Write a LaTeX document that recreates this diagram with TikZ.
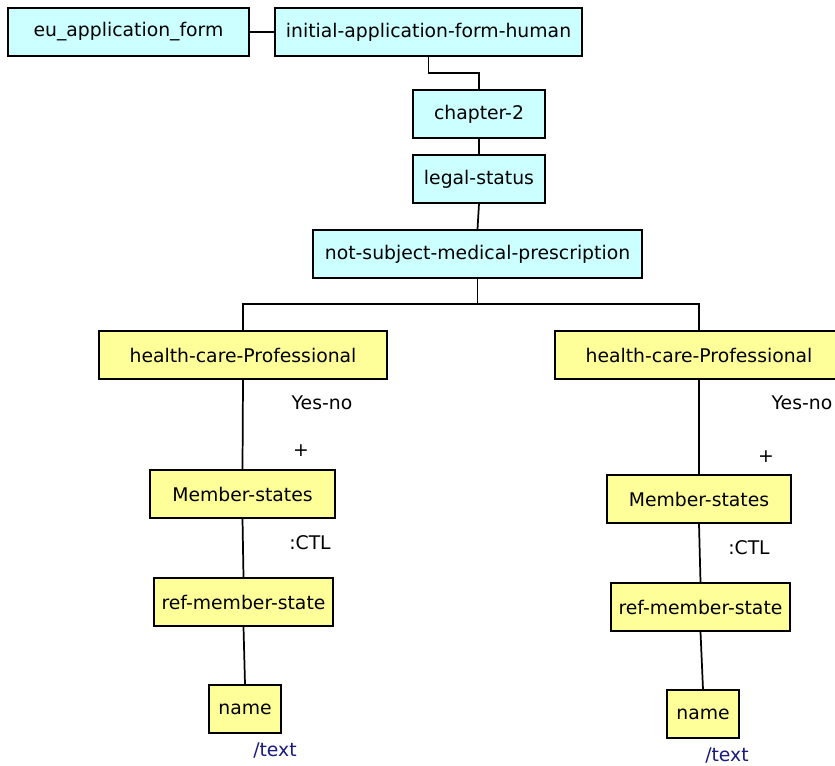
\documentclass[tikz,border=0pt]{standalone}
\usepackage{fontspec}
\setmainfont{DejaVu Sans}
\definecolor{boxcyan}{HTML}{CCFFFF}
\definecolor{boxyellow}{HTML}{FFFF99}
\definecolor{textnavy}{HTML}{1A1A80}
\begin{document}
\begin{tikzpicture}[x=0.75pt,y=-0.75pt,
  box/.style={draw=black,line width=1.2pt,minimum height=36pt,inner sep=0pt,font=\fontsize{14.1}{16}\selectfont},
  cyanbox/.style={box,fill=boxcyan},
  yelbox/.style={box,fill=boxyellow},
  conn/.style={line width=1.3pt},
  lbl/.style={font=\fontsize{14.1}{16}\selectfont,inner sep=0pt},
  tlbl/.style={lbl,text=textnavy}
]
\useasboundingbox (0,0) rectangle (835,765);
\fill[white] (0,0) rectangle (835,765);
\node[cyanbox,minimum width=180.75pt] (eu) at (128.5,32) {eu\_application\_form};
\node[cyanbox,minimum width=230.25pt] (init) at (428.5,32) {initial-application-form-human};
\node[cyanbox,minimum width=99pt] (ch2) at (479,114) {chapter-2};
\node[cyanbox,minimum width=99pt] (legal) at (479,179) {legal-status};
\node[cyanbox,minimum width=246.75pt] (notsub) at (477.5,254) {not-subject-medical-prescription};
\node[yelbox,minimum width=216pt] (hcp1) at (243,355) {health-care-Professional};
\node[yelbox,minimum width=216pt] (hcp2) at (699,355) {health-care-Professional};
\node[yelbox,minimum width=138.75pt] (ms1) at (242.5,494) {Member-states};
\node[yelbox,minimum width=138pt] (ms2) at (699,499) {Member-states};
\node[yelbox,minimum width=134.25pt] (ref1) at (243.5,602) {ref-member-state};
\node[yelbox,minimum width=134.25pt] (ref2) at (700.5,607) {ref-member-state};
\node[yelbox,minimum width=54pt] (name1) at (245,709) {name};
\node[yelbox,minimum width=54pt] (name2) at (703,714) {name};
\node[lbl] (yn1) at (322,403) {Yes-no};
\node[lbl] (yn2) at (802,403) {Yes-no};
\node[lbl] (p1) at (301,451) {+};
\node[lbl] (p2) at (766,457) {+};
\node[lbl] (c1) at (310,543) {:CTL};
\node[lbl] (c2) at (749,548) {:CTL};
\node[tlbl] (t1) at (275,751) {/text};
\node[tlbl] (t2) at (727,756) {/text};
\draw[conn] (eu.east) -- (init.west);
\draw[conn] (init.south) -- ++(0,16) -| (ch2.north);
\draw[conn] (ch2.south) -- (legal.north);
\draw[conn] (legal.south) -- (notsub.north);
\draw[conn] (notsub.south) -- ++(0,25) coordinate (bus);
\draw[conn] (hcp1.north) |- (bus) -| (hcp2.north);
\draw[conn] (hcp1.south) -- (ms1.north);
\draw[conn] (hcp2.south) -- (ms2.north);
\draw[conn] (ms1.south) -- (ref1.north);
\draw[conn] (ms2.south) -- (ref2.north);
\draw[conn] (ref1.south) -- (name1.north);
\draw[conn] (ref2.south) -- (name2.north);
\end{tikzpicture}
\end{document}
